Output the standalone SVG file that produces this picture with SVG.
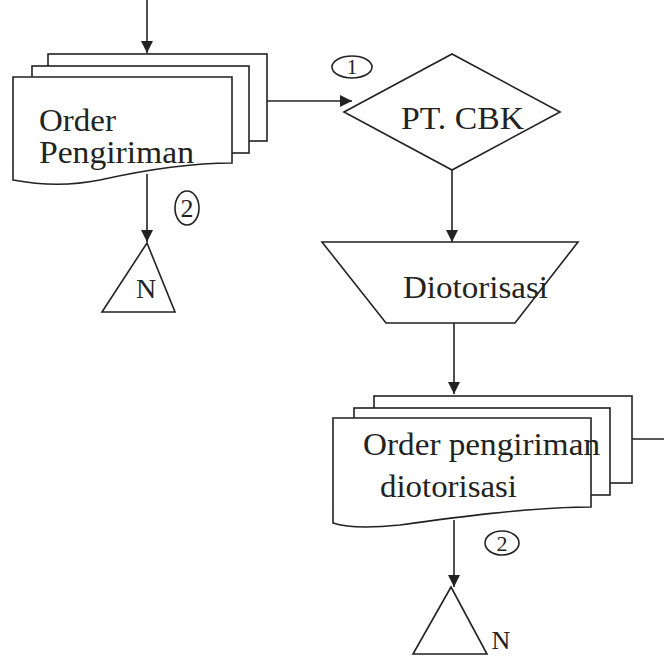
<svg xmlns="http://www.w3.org/2000/svg" width="664" height="656" viewBox="0 0 664 656">
<defs>
<style>
.s{fill:#fff;stroke:#222;stroke-width:1.6}
.c{fill:none;stroke:#222;stroke-width:1.6}
.t{font-family:"Liberation Serif","Times New Roman",serif;font-size:31px;fill:#222}
.n{font-family:"Liberation Serif","Times New Roman",serif;fill:#222}
</style>
<marker id="a" viewBox="0 0 12 12" refX="12" refY="6" markerWidth="12" markerHeight="12" markerUnits="userSpaceOnUse" orient="auto">
<path d="M0,0 L12,6 L0,12 Z" fill="#222"/>
</marker>
</defs>
<g id="connectors">
<line class="c" x1="147" y1="0" x2="147" y2="53" marker-end="url(#a)"/>
<line class="c" x1="267" y1="101" x2="352" y2="101" marker-end="url(#a)"/>
<line class="c" x1="147" y1="174" x2="147" y2="242" marker-end="url(#a)"/>
<line class="c" x1="452" y1="170" x2="452" y2="242" marker-end="url(#a)"/>
<line class="c" x1="454" y1="323" x2="454" y2="394" marker-end="url(#a)"/>
<line class="c" x1="610" y1="439" x2="664" y2="439"/>
<line class="c" x1="454" y1="520" x2="454" y2="587" marker-end="url(#a)"/>
</g>
<g id="doc1">
<rect class="s" x="48" y="54" width="219" height="87"/>
<rect class="s" x="32" y="66" width="217" height="87"/>
<path class="s" d="M13,77 H232 V163 C190,163 140,171 100,180 C70,186 40,185 13,180 Z"/>
<text class="t" x="39" y="131" textLength="77" lengthAdjust="spacingAndGlyphs">Order</text>
<text class="t" x="39" y="163" textLength="155" lengthAdjust="spacingAndGlyphs">Pengiriman</text>
</g>
<g id="label2a">
<ellipse class="c" cx="187" cy="208" rx="12" ry="17"/>
<text class="n" x="187" y="217" text-anchor="middle" style="font-size:26px">2</text>
</g>
<g id="connN1">
<path class="s" d="M147,243 L175,312 L102,312 Z"/>
<text class="n" x="146" y="298" text-anchor="middle" style="font-size:28px">N</text>
</g>
<g id="label1">
<ellipse class="c" cx="352" cy="67" rx="20" ry="11"/>
<text class="n" x="352" y="74" text-anchor="middle" style="font-size:21px">1</text>
</g>
<g id="decision">
<path class="s" d="M344,112 L452,54 L560,112 L452,170 Z"/>
<text class="t" x="401" y="129" textLength="123" lengthAdjust="spacingAndGlyphs">PT. CBK</text>
</g>
<g id="manual">
<path class="s" d="M322,242 H578 L515,323 H386 Z"/>
<text class="t" x="403" y="298" textLength="145" lengthAdjust="spacingAndGlyphs">Diotorisasi</text>
</g>
<g id="doc2">
<rect class="s" x="374" y="396" width="258" height="87"/>
<rect class="s" x="354" y="408" width="256" height="87"/>
<path class="s" d="M333,418 H591 V507 C530,507 450,518 400,525 C370,528 345,527 333,523 Z"/>
<text class="t" x="363" y="455" textLength="237" lengthAdjust="spacingAndGlyphs">Order pengiriman</text>
<text class="t" x="380" y="497" textLength="137" lengthAdjust="spacingAndGlyphs">diotorisasi</text>
</g>
<g id="label2b">
<ellipse class="c" cx="502" cy="543" rx="17" ry="12"/>
<text class="n" x="502" y="551" text-anchor="middle" style="font-size:22px">2</text>
</g>
<g id="connN2">
<path class="s" d="M451,587 L487,654 L413,654 Z"/>
<text class="n" x="501" y="649" text-anchor="middle" style="font-size:26px">N</text>
</g>
</svg>
